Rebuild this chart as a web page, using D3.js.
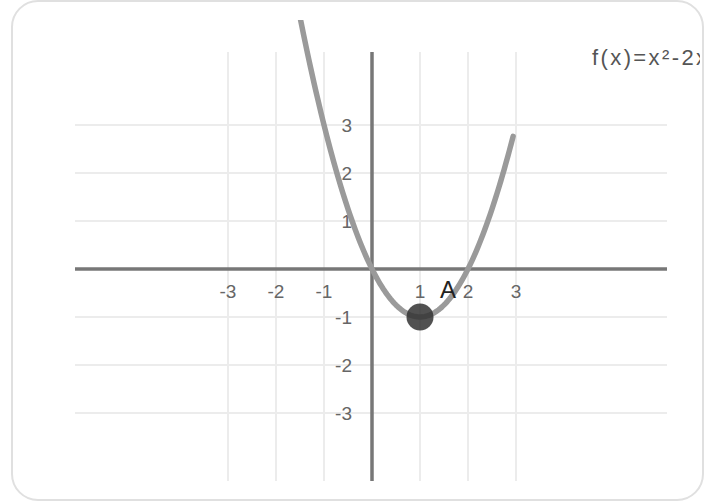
<!DOCTYPE html>
<html>
<head>
<meta charset="utf-8">
<script src="https://cdn.jsdelivr.net/npm/d3@7"></script>
<style>
  html, body { margin: 0; padding: 0; background: #fff; }
  svg { display: block; font-family: "Liberation Sans", Arial, sans-serif; }
</style>
</head>
<body>
<svg id="chart" width="716" height="503"></svg>
<script>
// Grid / tick values along each axis
const xTicks = [-3, -2, -1, 1, 2, 3];
const yTicks = [-3, -2, -1, 1, 2, 3];
// Sampled range of the plotted function f(x) = x² - 2x
const curveRange = [-1.5, 2.94];
const curveSteps = 120;
// Point A on the curve
const pointA = { name: "A", x: 1, y: -1 };
const formulaLabel = "f(x)=x²-2x";

const svg = d3.select("#chart");

// Card frame
const card = { x: 12, y: 1, w: 691, h: 499, r: 26 };
const defs = svg.append("defs");
defs.append("clipPath").attr("id", "curveClip")
  .append("rect").attr("x", card.x).attr("y", card.y + 19)
  .attr("width", card.w - 3).attr("height", card.h - 20);
defs.append("clipPath").attr("id", "textClip")
  .append("rect").attr("x", card.x).attr("y", card.y)
  .attr("width", card.w - 3).attr("height", card.h);

svg.append("rect")
  .attr("x", card.x).attr("y", card.y)
  .attr("width", card.w).attr("height", card.h)
  .attr("rx", card.r).attr("ry", card.r)
  .attr("fill", "#fff").attr("stroke", "#e0e0e0").attr("stroke-width", 2);

const x = d3.scaleLinear().domain([-6.1875, 6.1458]).range([75, 667]);
const y = d3.scaleLinear().domain([4.521, -4.417]).range([52, 481]);

const g = svg.append("g");

// Grid lines
g.selectAll(".vgrid").data(xTicks).join("line")
  .attr("x1", d => x(d)).attr("x2", d => x(d))
  .attr("y1", y.range()[0]).attr("y2", y.range()[1])
  .attr("stroke", "#ececec").attr("stroke-width", 2);
g.selectAll(".hgrid").data(yTicks).join("line")
  .attr("y1", d => y(d)).attr("y2", d => y(d))
  .attr("x1", x.range()[0]).attr("x2", x.range()[1])
  .attr("stroke", "#ececec").attr("stroke-width", 2);

// Axes
g.append("line")
  .attr("x1", x.range()[0]).attr("x2", x.range()[1])
  .attr("y1", y(0)).attr("y2", y(0))
  .attr("stroke", "#777").attr("stroke-width", 3.5);
g.append("line")
  .attr("x1", x(0)).attr("x2", x(0))
  .attr("y1", y.range()[0]).attr("y2", y.range()[1])
  .attr("stroke", "#777").attr("stroke-width", 3.5);

// Tick labels
g.selectAll(".xlab").data(xTicks).join("text")
  .attr("x", d => x(d)).attr("y", y(0) + 29)
  .attr("text-anchor", "middle")
  .attr("font-size", 19).attr("fill", "#666")
  .text(d => d);
g.selectAll(".ylab").data(yTicks).join("text")
  .attr("x", x(0) - 20).attr("y", d => y(d) + 7)
  .attr("text-anchor", "end")
  .attr("font-size", 19).attr("fill", "#666")
  .text(d => d);

// Curve
const f = t => t * t - 2 * t;
const pts = d3.range(curveSteps + 1).map(i => {
  const t = curveRange[0] + (curveRange[1] - curveRange[0]) * i / curveSteps;
  return [t, f(t)];
});
const line = d3.line().x(d => x(d[0])).y(d => y(d[1]));
g.append("path")
  .attr("clip-path", "url(#curveClip)")
  .attr("d", line(pts))
  .attr("fill", "none").attr("stroke", "#9a9a9a")
  .attr("stroke-width", 5.5).attr("stroke-linecap", "round")
  .attr("stroke-linejoin", "round");

// Point A
g.append("circle")
  .attr("cx", x(pointA.x)).attr("cy", y(pointA.y)).attr("r", 13.5)
  .attr("fill", "#333").attr("fill-opacity", 0.85);
g.append("text")
  .attr("x", x(pointA.x) + 20).attr("y", y(pointA.y) - 19)
  .attr("font-size", 24).attr("fill", "#222")
  .text(pointA.name);

// Formula label, clipped at the card's right edge
svg.append("text")
  .attr("clip-path", "url(#textClip)")
  .attr("x", 592).attr("y", 65)
  .attr("font-size", 22).attr("letter-spacing", 2.4).attr("fill", "#555")
  .text(formulaLabel);
</script>
</body>
</html>
